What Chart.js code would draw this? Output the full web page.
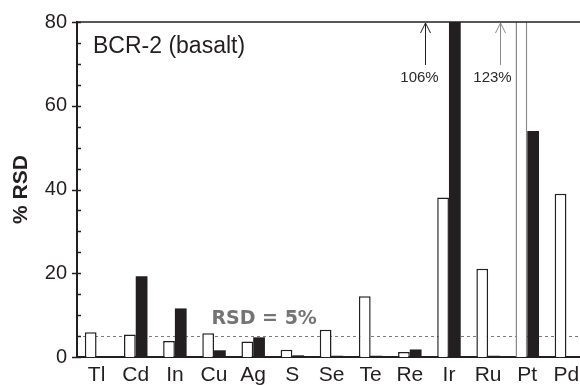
<!DOCTYPE html>
<html>
<head>
<meta charset="utf-8">
<script src="https://cdn.jsdelivr.net/npm/chart.js@4/dist/chart.umd.min.js"></script>
<style>
  html, body { margin: 0; padding: 0; background: #fff; overflow: hidden; }
  canvas { display: block; }
</style>
</head>
<body>
<canvas id="c" width="586" height="385"></canvas>
<script>
// Element symbols on the x axis
const elements = ['Tl', 'Cd', 'In', 'Cu', 'Ag', 'S', 'Se', 'Te', 'Re', 'Ir', 'Ru', 'Pt', 'Pd'];
// % RSD, open bars (first method)
const rsdOpen = [5.9, 5.4, 3.8, 5.7, 3.7, 1.75, 6.5, 14.5, 1.2, 38.1, 21.1, 123, 39.0];
// % RSD, solid bars (second method)
const rsdSolid = [null, 19.3, 11.6, 1.6, 4.7, 0.4, 0.3, 0.3, 1.8, 106, 0.3, 54.0, null];
// y axis ticks
const yTicks = [0, 20, 40, 60, 80];
const yMinorStep = 5;
const rsdLimit = 5;

const INK = '#231f20';
const FONT = '"Liberation Sans", Arial, sans-serif';

// Open-bar outline: the off-scale Pt bar is drawn with a grey outline
const openBorder = elements.map(e => e === 'Pt' ? '#8a8a8a' : INK);

const decorations = {
  id: 'decorations',
  beforeDatasetsDraw(chart) {
    const { ctx, chartArea: a, scales: { y } } = chart;
    const yl = y.getPixelForValue(rsdLimit);
    ctx.save();
    ctx.strokeStyle = '#7a7a7a';
    ctx.lineWidth = 1;
    ctx.setLineDash([3, 3]);
    ctx.beginPath();
    ctx.moveTo(a.left, Math.round(yl) + 0.5);
    ctx.lineTo(a.right, Math.round(yl) + 0.5);
    ctx.stroke();
    ctx.restore();
  },
  afterDatasetsDraw(chart) {
    const { ctx, chartArea: a, scales: { x, y } } = chart;
    ctx.save();
    // frame line along the top of the plot
    ctx.strokeStyle = INK;
    ctx.lineWidth = 1.5;
    ctx.beginPath();
    ctx.moveTo(a.left, a.top);
    ctx.lineTo(a.right + 2, a.top);
    ctx.stroke();

    // y axis tick marks: majors cross the axis, minors point inward
    ctx.lineWidth = 1.5;
    const ax = a.left;
    for (let v = 0; v <= y.max; v += yMinorStep) {
      const py = Math.round(y.getPixelForValue(v)) + 0.5;
      const major = yTicks.includes(v);
      ctx.beginPath();
      ctx.moveTo(major ? ax - 5 : ax, py);
      ctx.lineTo(ax + 4, py);
      ctx.stroke();
    }

    // sample label
    ctx.fillStyle = INK;
    ctx.font = '23px ' + FONT;
    ctx.textAlign = 'left';
    ctx.textBaseline = 'alphabetic';
    ctx.fillText('BCR-2 (basalt)', a.left + 16, a.top + 31);

    // RSD = 5% reference label
    const step = x.getPixelForValue(5) - x.getPixelForValue(4);
    ctx.fillStyle = '#747474';
    ctx.font = 'bold 19px "DejaVu Sans", sans-serif';
    ctx.textAlign = 'center';
    ctx.fillText('RSD = 5%', x.getPixelForValue(4) + 0.28 * step, y.getPixelForValue(rsdLimit) - 12);

    // off-scale values: arrow at the top of the axis with the value below
    const offScale = [
      { idx: elements.indexOf('Ir'), value: rsdSolid[elements.indexOf('Ir')], shift: -24, textShift: -6, color: INK },
      { idx: elements.indexOf('Pt'), value: rsdOpen[elements.indexOf('Pt')], shift: -27, textShift: -8, color: '#8a8a8a' }
    ];
    offScale.forEach(o => {
      const px = Math.round(x.getPixelForValue(o.idx) + o.shift) + 0.5;
      ctx.strokeStyle = o.color;
      ctx.lineWidth = 1;
      ctx.beginPath();
      ctx.moveTo(px, a.top + 1);
      ctx.lineTo(px, a.top + 43);
      ctx.moveTo(px - 5, a.top + 11);
      ctx.lineTo(px, a.top + 1);
      ctx.lineTo(px + 5, a.top + 11);
      ctx.stroke();
      ctx.fillStyle = '#2a2a2a';
      ctx.font = '15px ' + FONT;
      ctx.textAlign = 'center';
      ctx.fillText(o.value + '%', px + o.textShift, a.top + 60);
    });
    ctx.restore();
  }
};

new Chart(document.getElementById('c'), {
  type: 'bar',
  data: {
    labels: elements,
    datasets: [
      {
        label: 'open',
        data: rsdOpen,
        backgroundColor: '#ffffff',
        borderColor: openBorder,
        borderWidth: 1.5,
        borderSkipped: 'start',
        clip: 0
      },
      {
        label: 'solid',
        data: rsdSolid,
        backgroundColor: INK,
        borderWidth: 0,
        clip: 0
      }
    ]
  },
  options: {
    responsive: false,
    animation: false,
    events: [],
    layout: { padding: { top: 22, right: 0, bottom: 0, left: 0 } },
    datasets: { bar: { categoryPercentage: 0.6, barPercentage: 1.0 } },
    plugins: { legend: { display: false }, tooltip: { enabled: false } },
    scales: {
      x: {
        grid: { display: false, drawTicks: false },
        border: { display: true, color: INK, width: 2 },
        ticks: { color: INK, font: { family: FONT, size: 21 }, padding: 6, maxRotation: 0, autoSkip: false },
        afterFit(s) { s.height = 28; }
      },
      y: {
        min: 0,
        max: 80,
        afterBuildTicks(s) { s.ticks = yTicks.map(v => ({ value: v })); },
        grid: { display: false, drawTicks: false },
        border: { display: true, color: INK, width: 2 },
        ticks: { color: INK, font: { family: FONT, size: 20 }, padding: 10 },
        title: {
          display: true,
          text: '% RSD',
          color: INK,
          font: { family: FONT, size: 21, weight: 'bold' },
          padding: { top: 9, bottom: 0 }
        },
        afterFit(s) { s.width = 77; }
      }
    }
  },
  plugins: [decorations]
});
</script>
</body>
</html>
